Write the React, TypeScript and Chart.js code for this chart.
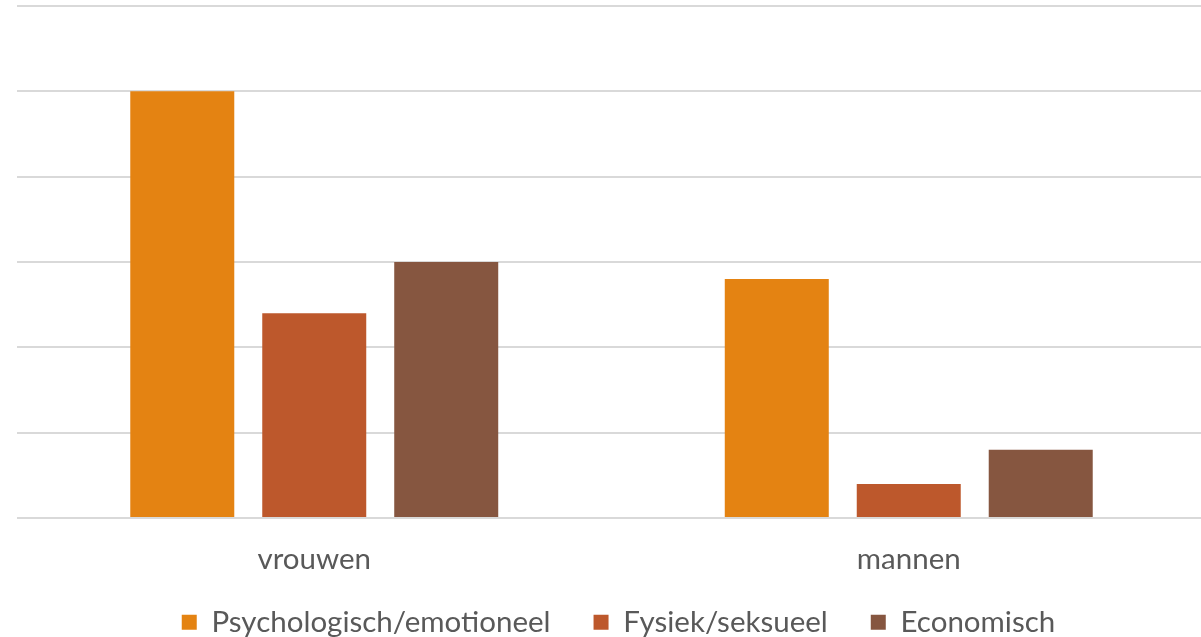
import React, { useEffect, useRef } from "react";
import { Chart, registerables } from "chart.js";

Chart.register(...registerables);

const categories = ["vrouwen", "mannen"];
const seriesNames = ["Psychologisch/emotioneel", "Fysiek/seksueel", "Economisch"];
const psychologisch = [5, 2.8];
const fysiek = [2.4, 0.4];
const economisch = [3, 0.8];
const colors = ["#E48312", "#BD582C", "#865640"];

const shiftLegend = {
  id: "shiftLegend",
  afterLayout(chart: any) {
    const l = chart.legend;
    if (l) {
      l.top -= 29;
      l.bottom -= 29;
      l.left += 7;
      l.right += 7;
    }
  },
};

export default function App() {
  const ref = useRef<HTMLCanvasElement | null>(null);
  useEffect(() => {
    document.body.style.margin = "0";
    const ctx = ref.current!;
    const values = [psychologisch, fysiek, economisch];
    const chart = new Chart(ctx, {
      type: "bar",
      data: {
        labels: categories,
        datasets: seriesNames.map((n, i) => ({
          label: n,
          data: values[i],
          backgroundColor: colors[i],
          borderWidth: 0,
          barPercentage: 0.788,
          categoryPercentage: 0.666,
        })),
      },
      options: {
        animation: false,
        responsive: false,
        maintainAspectRatio: false,
        layout: { padding: { top: 6, left: 17, right: 0, bottom: -39 } },
        plugins: {
          tooltip: { enabled: false },
          legend: {
            position: "bottom",
            labels: {
              boxWidth: 15,
              boxHeight: 15,
              padding: 43,
              color: "#595959",
              font: { family: "Lato", size: 29.5 },
            },
          },
        },
        scales: {
          x: {
            grid: { display: false },
            border: { display: false },
            ticks: { color: "#595959", font: { family: "Lato", size: 29.5 }, padding: 16 },
          },
          y: {
            min: 0,
            max: 6,
            ticks: { display: false, stepSize: 1 },
            border: { display: false },
            grid: { color: "#d9d9d9", lineWidth: 2, drawTicks: false },
          },
        },
      },
      plugins: [shiftLegend],
    });
    return () => chart.destroy();
  }, []);
  return (
    <div style={{ width: 1201, height: 637, overflow: "hidden" }}>
      <canvas ref={ref} width={1206} height={637} style={{ display: "block" }} />
    </div>
  );
}
